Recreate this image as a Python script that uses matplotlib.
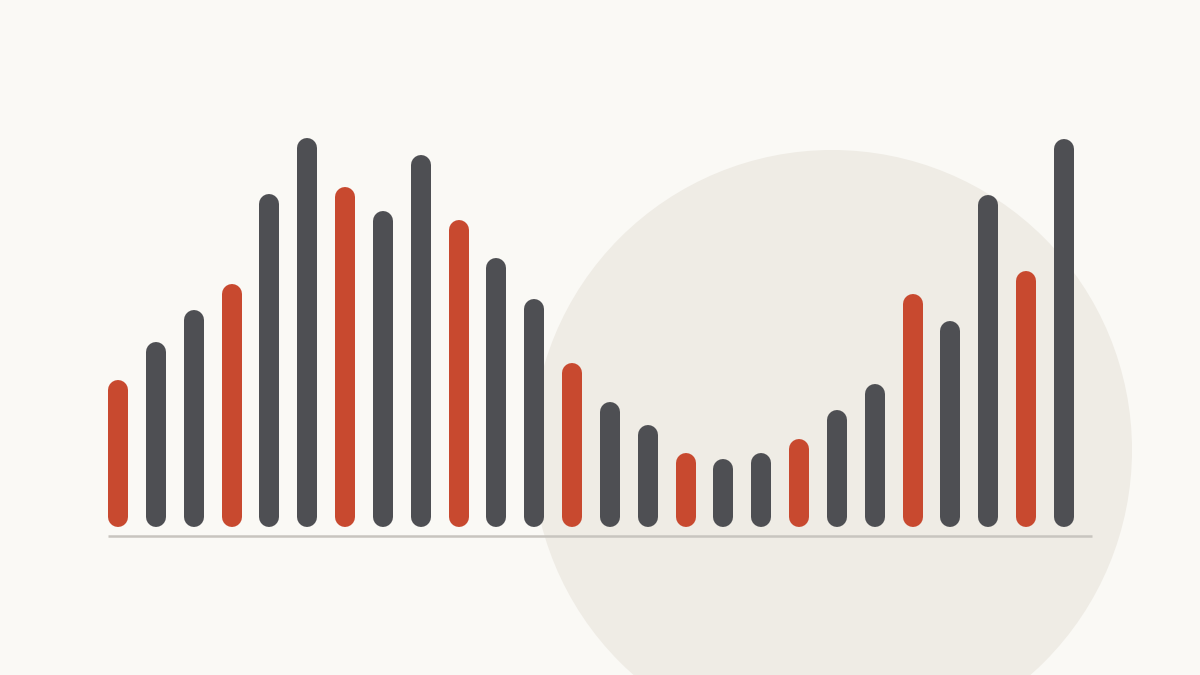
import matplotlib
matplotlib.use("Agg")
import matplotlib.pyplot as plt
from matplotlib.patches import Circle

# Data
values = [147, 185, 217, 243, 333, 389, 340, 316, 372, 307, 269, 228, 164,
          125, 102, 74, 68, 74, 88, 117, 143, 233, 206, 332, 256, 388]
highlight = [i % 3 == 0 for i in range(len(values))]

BG = "#faf9f5"
CIRCLE = "#efece5"
RED = "#c8492f"
GRAY = "#4e4f53"
BASE = "#c8c5bf"

W, H, DPI = 12, 6.75, 100
fig = plt.figure(figsize=(W, H), dpi=DPI, facecolor=BG)

# decorative circle (figure inches)
fig.patches.append(Circle((8.32, (675 - 450) / 100), 3.0,
                          transform=fig.dpi_scale_trans,
                          facecolor=CIRCLE, edgecolor="none", zorder=-5))

ax = fig.add_axes([0, 0, 1, 1])
ax.set_zorder(2)
ax.set_facecolor("none")
ax.patch.set_alpha(0)
step = 37.84  # px per bar
x0 = 118.0
ax.set_xlim(-x0 / step, (1200 - x0) / step)
base_px = 526.7
ax.set_ylim(-(675 - base_px), base_px)
ax.axis("off")

lw_px = 20
lw_pt = lw_px * 72 / DPI
r = lw_px / 2
for i, (v, hl) in enumerate(zip(values, highlight)):
    ax.plot([i, i], [r, v - r], color=RED if hl else GRAY,
            linewidth=lw_pt, solid_capstyle="round", zorder=3)

# baseline
ax.plot([(108 - x0) / step, (1092 - x0) / step], [-9.2, -9.2],
        color=BASE, linewidth=2.5 * 72 / DPI, solid_capstyle="butt", zorder=2)

fig.savefig("out.png", dpi=DPI, facecolor=BG)
